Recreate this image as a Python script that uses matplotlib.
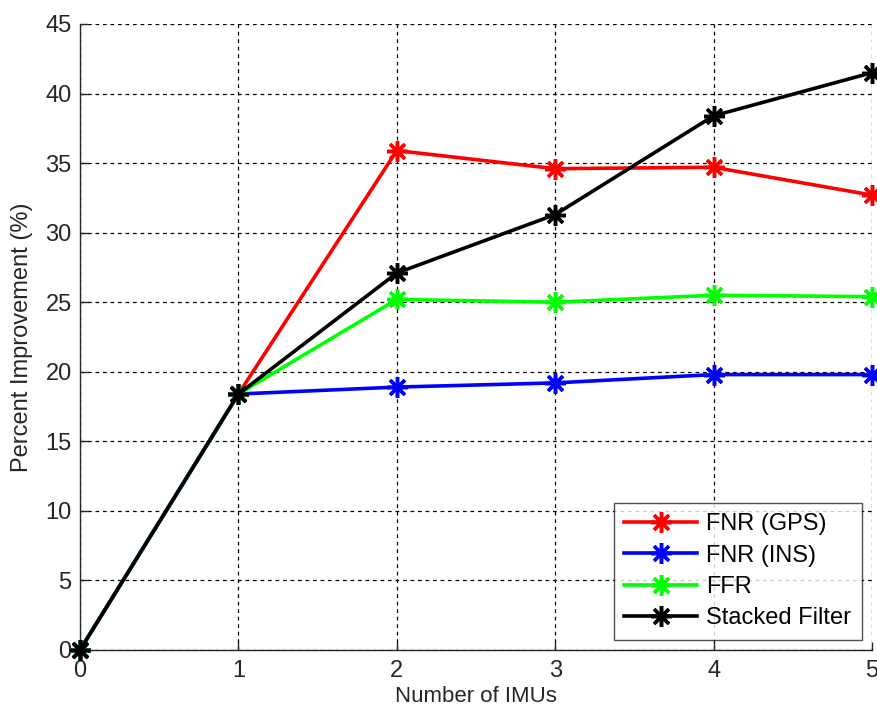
import matplotlib
matplotlib.use("Agg")
import matplotlib.pyplot as plt

plt.rcParams['font.family'] = ['Liberation Sans', 'DejaVu Sans']

num_imus = [0, 1, 2, 3, 4, 5]
fnr_gps = [0, 18.4, 35.9, 34.6, 34.7, 32.7]
fnr_ins = [0, 18.4, 18.9, 19.2, 19.8, 19.8]
ffr = [0, 18.4, 25.2, 25.0, 25.5, 25.4]
stacked = [0, 18.4, 27.1, 31.3, 38.4, 41.5]

series = [
    ("FNR (GPS)", fnr_gps, "#ff0000"),
    ("FNR (INS)", fnr_ins, "#0000ff"),
    ("FFR", ffr, "#00ff00"),
    ("Stacked Filter", stacked, "#000000"),
]

fig = plt.figure(figsize=(8.77, 7.13), dpi=100)
ax = fig.add_axes([80 / 877, 1 - 650 / 713, 792 / 877, 626 / 713])

asterisk = (8, 2, 0)
for label, vals, color in series:
    ax.plot(num_imus, vals, color=color, lw=2.6, marker=asterisk,
            markersize=15, markeredgewidth=2.5, markeredgecolor=color,
            label=label, clip_on=False, zorder=3)

ax.set_xlim(0, 5)
ax.set_ylim(0, 45)
ax.set_xticks(range(0, 6))
ax.set_yticks(range(0, 46, 5))

ax.grid(True, color="black", linestyle=(0, (3, 3)), linewidth=0.9)
ax.set_axisbelow(True)

for side in ("top", "right"):
    ax.spines[side].set_visible(False)
for side in ("left", "bottom"):
    ax.spines[side].set_linewidth(1.0)
    ax.spines[side].set_color("#262626")

ax.tick_params(direction="in", length=6, width=1, labelsize=17,
               colors="#262626", pad=6)
ax.tick_params(axis="x", pad=7)

ax.set_xlabel("Number of IMUs", fontsize=16, color="#262626", labelpad=3)
ax.set_ylabel("Percent Improvement (%)", fontsize=17, color="#262626", labelpad=9)

leg = ax.legend(loc="lower right", fontsize=17, frameon=True, fancybox=False,
                edgecolor="#262626", borderpad=0.45, labelspacing=0.4,
                handlelength=3.1, handletextpad=0.38, borderaxespad=0.42)
leg.get_frame().set_linewidth(1.0)

fig.savefig("out.png", dpi=100)
